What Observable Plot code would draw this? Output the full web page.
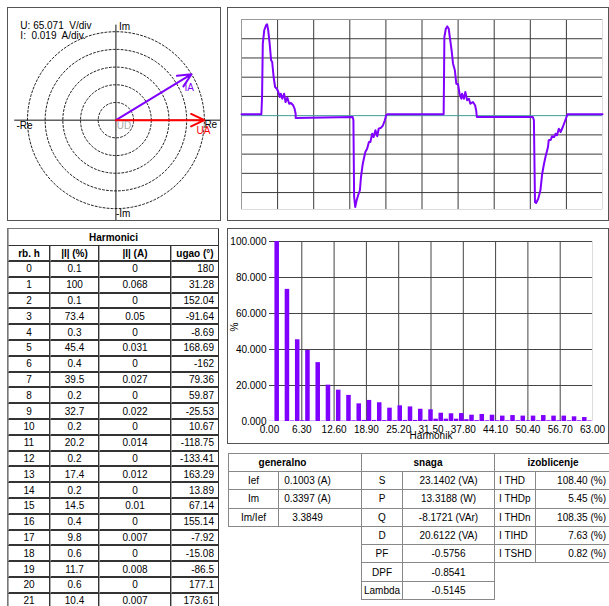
<!DOCTYPE html>
<html><head><meta charset="utf-8">
<script src="https://cdn.jsdelivr.net/npm/d3@7"></script>
<script src="https://cdn.jsdelivr.net/npm/@observablehq/plot@0.6"></script>
<style>
body{margin:0;background:#fff;font-family:"Liberation Sans",Arial,sans-serif;font-size:10px;color:#000;}
.panel{position:absolute;box-sizing:border-box;border:1px solid #555;background:#fff;overflow:hidden}
.panel svg{position:absolute;left:0;top:0}
.grid{position:absolute;display:grid;box-sizing:border-box}
.grid div{box-sizing:border-box;display:flex;align-items:center;justify-content:center;white-space:pre;overflow:hidden}
#harm{border-left:1px solid #777;border-top:1px solid #777}
#harm div{border-right:1px solid #333;border-bottom:2px solid #333;border-left:1px solid #aaa}
#harm .t{font-weight:bold;grid-column:1 / span 4;border-bottom:1px solid #333}
#harm .h{font-weight:bold}
#harm .r{justify-content:flex-end;padding-right:4px}
.bt{border-left:1px solid #888;border-top:1px solid #888}
.bt div{border-right:1px solid #888;border-bottom:1px solid #888}
.bt .t{font-weight:bold;grid-column:1 / span 2}
.bt .l{justify-content:flex-start;padding-left:4px}
.bt .r{justify-content:flex-end;padding-right:5px}
.bt div.nr{border-right:none}
</style></head>
<body>
<div class="panel" id="phasor" style="left:7px;top:7px;width:214px;height:214px"></div>
<div class="panel" id="wave" style="left:227px;top:7px;width:382px;height:214px"></div>
<div class="panel" id="spec" style="left:227px;top:228px;width:382px;height:216px"></div>
<div class="grid" id="harm" style="left:7px;top:228px;grid-template-columns:42px 49px 72px 48px;grid-template-rows:17px 16px;grid-auto-rows:15.8px"></div>
<div class="grid bt" id="gen" style="left:228px;top:453px;grid-template-columns:50px 57px 26px;grid-template-rows:18px;grid-auto-rows:18.3px"></div>
<div class="grid bt" id="snaga" style="left:361px;top:453px;grid-template-columns:41px 92px;grid-template-rows:18px;grid-auto-rows:18.3px"></div>
<div class="grid bt" id="izob" style="left:494px;top:453px;grid-template-columns:41px 76px;grid-template-rows:18px;grid-auto-rows:18.3px"></div>
<script>
// ---------- data ----------
// phasor diagram
const phasorRings = [1, 2, 3, 4, 5];
const phasorNames = ["IA", "UA"];
const phasorMagDiv = [5, 5];
const phasorAngleDeg = [31.28, 0];
const phasorColors = ["#8000ff", "#ff0000"];
const scaleLines = ["U: 65.071\u00a0 V/div", "I:\u00a0 0.019\u00a0 A/div."];

// current waveform (divisions)
const waveX = [0,0.55,0.57,0.59,0.63,0.68,0.71,0.74,0.78,0.82,0.85,0.89,0.93,0.98,1.02,1.06,1.09,1.13,1.18,1.22,1.27,1.32,1.37,1.43,1.47,1.50,1.50,3.08,3.10,3.12,3.15,3.19,3.23,3.28,3.31,3.36,3.40,3.43,3.48,3.53,3.57,3.62,3.66,3.71,3.76,3.80,3.87,3.92,3.97,4.01,4.04,
5.60,5.61,5.62,5.66,5.70,5.74,5.77,5.82,5.86,5.91,5.95,6.00,6.04,6.09,6.11,6.16,6.20,6.25,6.30,6.34,6.41,6.47,6.50,6.52,8.07,8.10,8.13,8.16,8.22,8.28,8.33,8.38,8.42,8.49,8.51,8.57,8.60,8.66,8.70,8.74,8.79,8.84,8.90,8.97,9.03,10];
const waveY = [0.07,0.07,0.97,3.74,4.44,4.70,4.75,4.44,3.74,2.88,2.79,2.01,1.49,1.40,1.23,0.97,1.14,0.88,1.14,0.71,0.94,0.62,0.66,0.54,0.36,0.10,-0.12,-0.07,-0.24,-4.23,-4.75,-4.40,-4.14,-3.88,-3.19,-2.50,-2.15,-1.89,-1.72,-1.37,-1.37,-0.94,-1.11,-0.76,-1.07,-0.68,-0.62,-0.50,-0.24,0.03,0.07,
0.07,2.01,4.09,4.52,4.64,4.52,4.09,3.40,2.70,2.36,1.66,1.63,1.14,0.88,1.14,0.88,1.23,0.80,0.88,0.62,0.71,0.54,0.28,-0.07,-0.07,-0.24,-4.49,-4.54,-4.32,-3.88,-3.02,-2.50,-2.15,-1.63,-1.28,-1.25,-1.07,-1.11,-0.94,-1.02,-0.68,-0.85,-0.59,-0.24,0.07,0.07];
const waveXGrid = [1,2,3,4,5,6,7,8,9];
const waveYGrid = [-4,-3,-2,-1,1,2,3,4];

// harmonic spectrum, % of fundamental, harmonic order 0..62
const specOrder = [0,1,2,3,4,5,6,7,8,9,10,11,12,13,14,15,16,17,18,19,20,21,22,23,24,25,26,27,28,29,30,31,32,33,34,35,36,37,38,39,40,41,42,43,44,45,46,47,48,49,50,51,52,53,54,55,56,57,58,59,60,61,62];
const specPct = [0.1,100,0.1,73.4,0.3,45.4,0.4,39.5,0.2,32.7,0.2,20.2,0.2,17.4,0.2,14.5,0.4,9.8,0.6,11.7,0.6,10.4,0.5,7.4,0.5,8.7,0.6,8.1,0.6,6.8,0.7,6.5,1.3,4.6,1.3,4.3,1.3,4.4,1.0,3.5,0.5,3.9,0.4,3.5,0.4,3.0,0.4,3.3,0.4,3.0,0.4,3.0,0.4,3.3,0.4,3.0,0.4,3.0,0.4,2.6,0.4,2.2,0.3];
const specXTicks = [0,6.3,12.6,18.9,25.2,31.5,37.8,44.1,50.4,56.7,63];
const specYTicks = [0,20,40,60,80,100];

// harmonics table
const harmHeaders = ["rb. h", "|I| (%)", "|I| (A)", "ugao (\u00b0)"];
const harmH = ["0","1","2","3","4","5","6","7","8","9","10","11","12","13","14","15","16","17","18","19","20","21"];
const harmPct = ["0.1","100","0.1","73.4","0.3","45.4","0.4","39.5","0.2","32.7","0.2","20.2","0.2","17.4","0.2","14.5","0.4","9.8","0.6","11.7","0.6","10.4"];
const harmAmp = ["0","0.068","0","0.05","0","0.031","0","0.027","0","0.022","0","0.014","0","0.012","0","0.01","0","0.007","0","0.008","0","0.007"];
const harmAngle = ["180","31.28","152.04","-91.64","-8.69","168.69","-162","79.36","59.87","-25.53","10.67","-118.75","-133.41","163.29","13.89","67.14","155.14","-7.92","-15.08","-86.5","177.1","173.61"];

// summary tables
const genLabels = ["Ief", "Im", "Im/Ief"];
const genValues = ["0.1003 (A)", "0.3397 (A)", "3.3849"];
const snagaLabels = ["S", "P", "Q", "D", "PF", "DPF", "Lambda"];
const snagaValues = ["23.1402 (VA)", "13.3188 (W)", "-8.1721 (VAr)", "20.6122 (VA)", "-0.5756", "-0.8541", "-0.5145"];
const izobLabels = ["I THD", "I THDp", "I THDn", "I TIHD", "I TSHD"];
const izobValues = ["108.40 (%)", "5.45 (%)", "108.35 (%)", "7.63 (%)", "0.82 (%)"];

const FONT = "Liberation Sans, Arial, sans-serif";
const PURPLE = "#8000ff";

// ---------- phasor diagram ----------
{
  const ringPts = phasorRings.flatMap(r => d3.range(0, 360, 4).map(a => ({r, x: r * Math.cos(a * Math.PI / 180), y: r * Math.sin(a * Math.PI / 180)})));
  const phasors = phasorNames.map((n, i) => ({name: n, mag: phasorMagDiv[i], ang: phasorAngleDeg[i], color: phasorColors[i]}));
  const cx = d => d.mag * Math.cos(d.ang * Math.PI / 180);
  const cy = d => d.mag * Math.sin(d.ang * Math.PI / 180);
  const svg = Plot.plot({
    width: 212, height: 212, margin: 0,
    style: {fontFamily: FONT, fontSize: "10px", background: "transparent", overflow: "hidden"},
    x: {domain: [-6.07, 5.91], range: [0, 212], axis: null},
    y: {domain: [-5.67, 6.31], range: [212, 0], axis: null},
    marks: [
      Plot.line(ringPts, {x: "x", y: "y", z: "r", curve: "linear-closed", stroke: "#222", strokeWidth: 1, strokeDasharray: "2,2"}),
      Plot.ruleY([0], {x1: -5.72, x2: 6.2, stroke: "#111"}),
      Plot.ruleX([0], {y1: 5.37, y2: -6, stroke: "#111"}),
      Plot.arrow(phasors, {x1: () => 0, y1: () => 0, x2: cx, y2: cy, stroke: "color", strokeWidth: 2, headLength: 11, headAngle: 50}),
      Plot.text(["Im"], {x: () => 0, y: () => 5.3, dx: 3, textAnchor: "start"}),
      Plot.text(["-Im"], {x: () => 0, y: () => -5.3, dx: 0, textAnchor: "start"}),
      Plot.text(["-Re"], {x: () => -5.62, y: () => -0.33, textAnchor: "start"}),
      Plot.text(["Re"], {x: () => 5.0, y: () => -0.27, textAnchor: "start"}),
      Plot.text(["UD"], {x: () => 0.05, y: () => -0.33, textAnchor: "start", fill: "#aaa"}),
      Plot.text(phasors.filter(d => d.name === "IA"), {x: d => cx(d) - 0.4, y: d => cy(d) - 0.75, text: "name", fill: "color", textAnchor: "start"}),
      Plot.text(phasors.filter(d => d.name === "UA"), {x: d => cx(d) - 0.45, y: d => cy(d) - 0.6, text: "name", fill: "color", textAnchor: "start"}),
      Plot.text(scaleLines, {x: () => -5.4, y: (d, i) => 5.35 - i * 0.6, text: d => d, textAnchor: "start"})
    ]
  });
  document.getElementById("phasor").appendChild(svg);
}

// ---------- waveform ----------
{
  const pts = waveX.map((x, i) => ({x, y: waveY[i]}));
  const svg = Plot.plot({
    width: 380, height: 212, marginLeft: 13, marginRight: 6, marginTop: 11, marginBottom: 11,
    style: {fontFamily: FONT, fontSize: "10px", background: "transparent"},
    x: {domain: [0, 10], axis: null},
    y: {domain: [-4.88, 5], axis: null},
    marks: [
      Plot.ruleX(waveXGrid, {stroke: "#3a3a3a", strokeWidth: 1}),
      Plot.ruleY(waveYGrid, {stroke: "#3a3a3a", strokeWidth: 1}),
      Plot.ruleY([5], {stroke: "#999"}),
      Plot.ruleX([0], {stroke: "#999"}),
      Plot.ruleX([10], {stroke: "#ddd"}),
      Plot.ruleY([-4.88], {stroke: "#ddd"}),
      Plot.ruleY([0], {stroke: "#3f9b9b", strokeWidth: 1}),
      Plot.line(pts, {x: "x", y: "y", stroke: PURPLE, strokeWidth: 2, strokeLinejoin: "round"})
    ]
  });
  document.getElementById("wave").appendChild(svg);
}

// ---------- spectrum ----------
{
  const bars = specOrder.map((h, i) => ({h, pct: specPct[i]}));
  const svg = Plot.plot({
    width: 380, height: 214, marginLeft: 41, marginRight: 16, marginTop: 12, marginBottom: 22,
    style: {fontFamily: FONT, fontSize: "10px", background: "transparent", overflow: "visible"},
    x: {domain: [0, 63]},
    y: {domain: [0, 100]},
    marks: [
      Plot.ruleX(specXTicks.slice(1, -1), {stroke: "#444"}),
      Plot.ruleX(specXTicks.slice(-1), {stroke: "#ddd"}),
      Plot.ruleY(specYTicks.slice(1), {stroke: "#444"}),
      Plot.rectY(bars, {x1: "h", x2: d => d.h + 1, y: "pct", fill: PURPLE, insetLeft: 0.3, insetRight: 0.3}),
      Plot.axisX({ticks: specXTicks, tickFormat: d => d.toFixed(2), tickSize: 0, tickPadding: 4, label: null}),
      Plot.axisY({ticks: specYTicks, tickFormat: d => d.toFixed(3), tickSize: 0, tickPadding: 3, label: null}),
      Plot.text(["Harmonik"], {frameAnchor: "bottom", dy: 17}),
      Plot.text(["%"], {frameAnchor: "left", dx: -35, rotate: -90})
    ]
  });
  document.getElementById("spec").appendChild(svg);
}

// ---------- tables ----------
{
  const harm = d3.select("#harm");
  harm.append("div").attr("class", "t").text("Harmonici");
  harmHeaders.forEach(h => harm.append("div").attr("class", "h").text(h));
  harmH.forEach((h, i) => {
    harm.append("div").text(h);
    harm.append("div").text(harmPct[i]);
    harm.append("div").text(harmAmp[i]);
    harm.append("div").attr("class", "r").text(harmAngle[i]);
  });
  function summary(id, title, labels, values, lcls, vcls, pad) {
    const g = d3.select(id);
    g.append("div").attr("class", "t" + (pad ? " nr" : "")).text(title);
    if (pad) g.append("div").text("");
    labels.forEach((l, i) => {
      g.append("div").attr("class", lcls).text(l);
      g.append("div").attr("class", vcls + (pad ? " nr" : "")).text(values[i]);
      if (pad) g.append("div").text("");
    });
  }
  summary("#gen", "generalno", genLabels, genValues, "", "", true);
  summary("#snaga", "snaga", snagaLabels, snagaValues, "", "", false);
  summary("#izob", "izoblicenje", izobLabels, izobValues, "l", "r", false);
}
</script>
</body></html>
